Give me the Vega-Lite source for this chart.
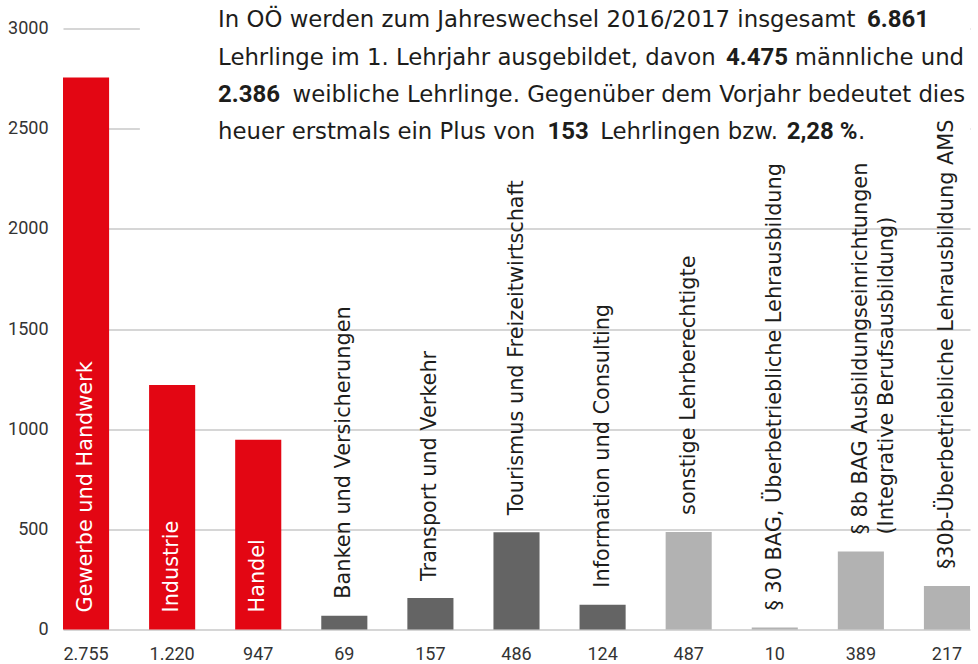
{
  "$schema": "https://vega.github.io/schema/vega-lite/v6.json",
  "width": 907,
  "height": 601,
  "autosize": "none",
  "padding": {"left": 63, "top": 28.5, "right": 8, "bottom": 34.5},
  "config": {
    "view": {"stroke": null},
    "font": "Roboto",
    "locale": {"number": {"decimal": ",", "thousands": ".", "grouping": [3], "currency": ["", " €"]}},
    "axisY": {"labelFontSize": 18, "labelFont": "Roboto", "labelColor": "#333333", "labelPadding": 15, "gridColor": "#c8c8c8", "gridWidth": 1.3, "domain": false, "ticks": false}
  },
  "datasets": {
    "lehrlinge": [
      {"bereich": "Gewerbe und Handwerk", "beschriftung": "Gewerbe und Handwerk", "anzahl": 2755, "gruppe": "rot"},
      {"bereich": "Industrie", "beschriftung": "Industrie", "anzahl": 1220, "gruppe": "rot"},
      {"bereich": "Handel", "beschriftung": "Handel", "anzahl": 947, "gruppe": "rot"},
      {"bereich": "Banken und Versicherungen", "beschriftung": "Banken und Versicherungen", "anzahl": 69, "gruppe": "dunkel"},
      {"bereich": "Transport und Verkehr", "beschriftung": "Transport und Verkehr", "anzahl": 157, "gruppe": "dunkel"},
      {"bereich": "Tourismus und Freizeitwirtschaft", "beschriftung": "Tourismus und Freizeitwirtschaft", "anzahl": 486, "gruppe": "dunkel"},
      {"bereich": "Information und Consulting", "beschriftung": "Information und Consulting", "anzahl": 124, "gruppe": "dunkel"},
      {"bereich": "sonstige Lehrberechtigte", "beschriftung": "sonstige Lehrberechtigte", "anzahl": 487, "gruppe": "hell"},
      {"bereich": "§ 30 BAG, Überbetriebliche Lehrausbildung", "beschriftung": "§ 30 BAG, Überbetriebliche Lehrausbildung", "anzahl": 10, "gruppe": "hell"},
      {"bereich": "§ 8b BAG Ausbildungseinrichtungen (Integrative Berufsausbildung)", "beschriftung": "§ 8b BAG Ausbildungseinrichtungen\n(Integrative Berufsausbildung)", "anzahl": 389, "gruppe": "hell"},
      {"bereich": "§30b-Überbetriebliche Lehrausbildung AMS", "beschriftung": "§30b-Überbetriebliche Lehrausbildung AMS", "anzahl": 217, "gruppe": "hell"}
    ]
  },
  "layer": [
    {
      "data": {"name": "lehrlinge"},
      "mark": {"type": "bar"},
      "encoding": {
        "x": {
          "field": "bereich", "type": "nominal", "sort": null,
          "scale": {
            "domain": ["Gewerbe und Handwerk", "Industrie", "Handel", "Banken und Versicherungen", "Transport und Verkehr", "Tourismus und Freizeitwirtschaft", "Information und Consulting", "sonstige Lehrberechtigte", "§ 30 BAG, Überbetriebliche Lehrausbildung", "§ 8b BAG Ausbildungseinrichtungen (Integrative Berufsausbildung)", "§30b-Überbetriebliche Lehrausbildung AMS"],
            "paddingInner": 0.4646, "paddingOuter": 0
          },
          "axis": null
        },
        "y": {
          "field": "anzahl", "type": "quantitative",
          "scale": {"domain": [0, 3000], "nice": false},
          "axis": {"values": [0, 500, 1000, 1500, 2000, 2500, 3000], "format": "d", "title": null}
        },
        "color": {"field": "gruppe", "type": "nominal", "scale": {"domain": ["rot", "dunkel", "hell"], "range": ["#e30613", "#646464", "#b2b2b2"]}, "legend": null}
      }
    },
    {
      "data": {"values": [{"von": "Industrie", "bis": "§30b-Überbetriebliche Lehrausbildung AMS", "unten": 2250, "oben": 3200}]},
      "mark": {"type": "rect", "color": "white"},
      "encoding": {
        "x": {"field": "von", "type": "nominal", "bandPosition": -0.2},
        "x2": {"field": "bis", "bandPosition": 1},
        "y": {"field": "unten", "type": "quantitative"},
        "y2": {"field": "oben"}
      }
    },
    {
      "data": {"values": [{"t": "In OÖ werden zum Jahreswechsel 2016/2017 insgesamt"}]},
      "mark": {"type": "text", "align": "left", "baseline": "alphabetic", "fontSize": 22.8, "font": "DejaVu Sans", "color": "#1d1d1b", "dx": 69},
      "encoding": {"x": {"datum": "Industrie", "bandPosition": 0}, "y": {"datum": 3005, "type": "quantitative"}, "text": {"field": "t"}}
    },
    {
      "data": {"values": [{"t": "6.861"}]},
      "mark": {"type": "text", "align": "right", "baseline": "alphabetic", "fontSize": 24, "font": "Roboto", "fontWeight": "bold", "color": "#1d1d1b", "dx": 780},
      "encoding": {"x": {"datum": "Industrie", "bandPosition": 0}, "y": {"datum": 3005, "type": "quantitative"}, "text": {"field": "t"}}
    },
    {
      "data": {"values": [{"t": "Lehrlinge im 1. Lehrjahr ausgebildet, davon"}]},
      "mark": {"type": "text", "align": "left", "baseline": "alphabetic", "fontSize": 22.8, "font": "DejaVu Sans", "color": "#1d1d1b", "dx": 69},
      "encoding": {"x": {"datum": "Industrie", "bandPosition": 0}, "y": {"datum": 2820, "type": "quantitative"}, "text": {"field": "t"}}
    },
    {
      "data": {"values": [{"t": "4.475"}]},
      "mark": {"type": "text", "align": "center", "baseline": "alphabetic", "fontSize": 24, "font": "Roboto", "fontWeight": "bold", "color": "#1d1d1b", "dx": 608},
      "encoding": {"x": {"datum": "Industrie", "bandPosition": 0}, "y": {"datum": 2820, "type": "quantitative"}, "text": {"field": "t"}}
    },
    {
      "data": {"values": [{"t": "männliche und"}]},
      "mark": {"type": "text", "align": "right", "baseline": "alphabetic", "fontSize": 22.8, "font": "DejaVu Sans", "color": "#1d1d1b", "dx": 815},
      "encoding": {"x": {"datum": "Industrie", "bandPosition": 0}, "y": {"datum": 2820, "type": "quantitative"}, "text": {"field": "t"}}
    },
    {
      "data": {"values": [{"t": "2.386"}]},
      "mark": {"type": "text", "align": "left", "baseline": "alphabetic", "fontSize": 24, "font": "Roboto", "fontWeight": "bold", "color": "#1d1d1b", "dx": 69},
      "encoding": {"x": {"datum": "Industrie", "bandPosition": 0}, "y": {"datum": 2635, "type": "quantitative"}, "text": {"field": "t"}}
    },
    {
      "data": {"values": [{"t": "weibliche Lehrlinge. Gegenüber dem Vorjahr bedeutet dies"}]},
      "mark": {"type": "text", "align": "right", "baseline": "alphabetic", "fontSize": 22.8, "font": "DejaVu Sans", "color": "#1d1d1b", "dx": 816},
      "encoding": {"x": {"datum": "Industrie", "bandPosition": 0}, "y": {"datum": 2635, "type": "quantitative"}, "text": {"field": "t"}}
    },
    {
      "data": {"values": [{"t": "heuer erstmals ein Plus von"}]},
      "mark": {"type": "text", "align": "left", "baseline": "alphabetic", "fontSize": 22.8, "font": "DejaVu Sans", "color": "#1d1d1b", "dx": 69},
      "encoding": {"x": {"datum": "Industrie", "bandPosition": 0}, "y": {"datum": 2450, "type": "quantitative"}, "text": {"field": "t"}}
    },
    {
      "data": {"values": [{"t": "153"}]},
      "mark": {"type": "text", "align": "center", "baseline": "alphabetic", "fontSize": 24, "font": "Roboto", "fontWeight": "bold", "color": "#1d1d1b", "dx": 419},
      "encoding": {"x": {"datum": "Industrie", "bandPosition": 0}, "y": {"datum": 2450, "type": "quantitative"}, "text": {"field": "t"}}
    },
    {
      "data": {"values": [{"t": "Lehrlingen bzw."}]},
      "mark": {"type": "text", "align": "center", "baseline": "alphabetic", "fontSize": 22.8, "font": "DejaVu Sans", "color": "#1d1d1b", "dx": 540},
      "encoding": {"x": {"datum": "Industrie", "bandPosition": 0}, "y": {"datum": 2450, "type": "quantitative"}, "text": {"field": "t"}}
    },
    {
      "data": {"values": [{"t": "2,28 %"}]},
      "mark": {"type": "text", "align": "center", "baseline": "alphabetic", "fontSize": 24, "font": "Roboto", "fontWeight": "bold", "color": "#1d1d1b", "dx": 673},
      "encoding": {"x": {"datum": "Industrie", "bandPosition": 0}, "y": {"datum": 2450, "type": "quantitative"}, "text": {"field": "t"}}
    },
    {
      "data": {"values": [{"t": "."}]},
      "mark": {"type": "text", "align": "left", "baseline": "alphabetic", "fontSize": 22.8, "font": "DejaVu Sans", "color": "#1d1d1b", "dx": 709},
      "encoding": {"x": {"datum": "Industrie", "bandPosition": 0}, "y": {"datum": 2450, "type": "quantitative"}, "text": {"field": "t"}}
    },
    {
      "data": {"name": "lehrlinge"},
      "transform": [{"filter": "datum.gruppe == 'rot'"}],
      "mark": {"type": "text", "angle": 270, "align": "left", "baseline": "middle", "dx": 17, "fontSize": 20.8, "font": "DejaVu Sans", "color": "white"},
      "encoding": {
        "x": {"field": "bereich", "type": "nominal", "sort": null},
        "y": {"datum": 0, "type": "quantitative"},
        "text": {"field": "beschriftung"}
      }
    },
    {
      "data": {"name": "lehrlinge"},
      "transform": [{"filter": "datum.gruppe != 'rot'"}],
      "mark": {"type": "text", "angle": 270, "align": "left", "baseline": "middle", "dx": 17, "fontSize": 20.8, "font": "DejaVu Sans", "color": "#1d1d1b", "lineBreak": "\n", "lineHeight": 26},
      "encoding": {
        "x": {"field": "bereich", "type": "nominal", "sort": null},
        "y": {"field": "anzahl", "type": "quantitative"},
        "text": {"field": "beschriftung"}
      }
    },
    {
      "data": {"name": "lehrlinge"},
      "mark": {"type": "text", "align": "center", "baseline": "alphabetic", "dy": 30, "fontSize": 18, "font": "Roboto", "color": "#333333"},
      "encoding": {
        "x": {"field": "bereich", "type": "nominal", "sort": null},
        "y": {"datum": 0, "type": "quantitative"},
        "text": {"field": "anzahl", "type": "quantitative", "format": ",d"}
      }
    }
  ]
}
